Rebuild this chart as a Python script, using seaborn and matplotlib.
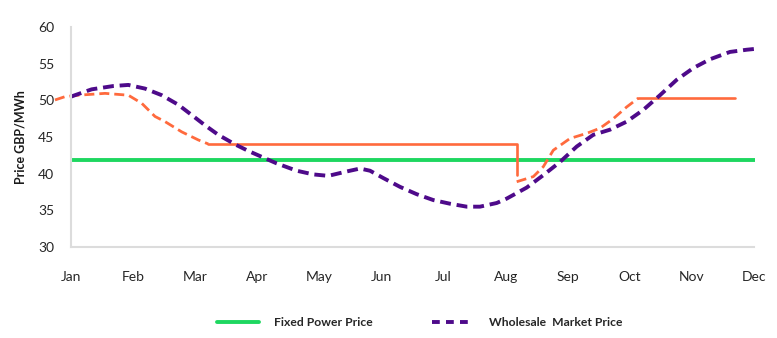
import matplotlib
matplotlib.use("Agg")
import matplotlib.pyplot as plt
import seaborn as sns
import pandas as pd
from matplotlib.lines import Line2D

months = ["Jan", "Feb", "Mar", "Apr", "May", "Jun", "Jul", "Aug", "Sep", "Oct", "Nov", "Dec"]
y_ticks = [30, 35, 40, 45, 50, 55, 60]

# Wholesale market price (month index, value)
wholesale_x = [0, 0.064, 0.333, 0.681, 0.923, 1.192, 1.461, 1.728, 1.944, 2.158, 2.372, 2.641,
               2.856, 3.124, 3.313, 3.635, 3.902, 4.144, 4.440, 4.655, 4.816, 5.030, 5.299,
               5.568, 5.835, 6.104, 6.373, 6.587, 6.856, 7.017, 7.339, 7.607, 7.876, 8.145,
               8.412, 8.681, 8.950, 9.217, 9.486, 9.755, 10.022, 10.291, 10.613, 10.882, 11.0]
wholesale_y = [50.5, 50.7, 51.5, 51.95, 52.1, 51.6, 50.7, 49.4, 48.0, 46.6, 45.3, 44.0,
               43.1, 42.1, 41.4, 40.4, 39.9, 39.7, 40.3, 40.7, 40.4, 39.4, 38.2,
               37.2, 36.4, 35.9, 35.5, 35.5, 36.0, 36.6, 38.1, 39.8, 41.6, 43.7,
               45.3, 46.0, 47.1, 48.7, 50.7, 52.8, 54.4, 55.6, 56.6, 56.9, 57.0]

# Fixed power price
fixed_x = [0, 11.02]
fixed_y = [41.85, 41.85]

# Hedged price: floating (dashed) pieces and locked (solid) pieces
float1_x = [-0.258, -0.097, 0.118, 0.548, 0.923, 1.139, 1.353, 1.514, 1.783, 2.050, 2.211]
float1_y = [50.05, 50.5, 50.7, 50.95, 50.7, 49.6, 47.8, 47.1, 45.7, 44.6, 44.05]
lock1_x = [2.211, 7.178, 7.178]
lock1_y = [44.05, 44.05, 39.8]
float2_x = [7.178, 7.446, 7.607, 7.768, 8.037, 8.306, 8.520, 8.734, 8.950, 9.137]
float2_y = [38.9, 39.6, 40.95, 43.2, 44.8, 45.5, 46.2, 47.5, 49.1, 50.3]
lock2_x = [9.137, 10.694]
lock2_y = [50.3, 50.3]

GREEN = "#1ed760"
PURPLE = "#4e0a8a"
ORANGE = "#ff6a3d"

sns.set_theme(style="white")
plt.rcParams["font.family"] = ["Lato", "DejaVu Sans"]

fig = plt.figure(figsize=(7.77, 3.38), dpi=100)
ax = fig.add_axes([71 / 777, 1 - 247 / 338, (754 - 71) / 777, (247 - 27) / 338])

def draw(xs, ys, **kw):
    df = pd.DataFrame({"x": xs, "y": ys})
    sns.lineplot(data=df, x="x", y="y", ax=ax, sort=False, estimator=None, legend=False, **kw)

draw(fixed_x, fixed_y, color=GREEN, linewidth=2.8, solid_capstyle="butt", clip_on=False)
draw(lock1_x, lock1_y, color=ORANGE, linewidth=1.9, clip_on=False)
draw(lock2_x, lock2_y, color=ORANGE, linewidth=1.9)
draw(float1_x, float1_y, color=ORANGE, linewidth=2.0, clip_on=False)
ax.lines[-1].set_dashes((3.6, 1.8))
draw(float2_x, float2_y, color=ORANGE, linewidth=2.0)
ax.lines[-1].set_dashes((3.6, 1.8))
draw(wholesale_x, wholesale_y, color=PURPLE, linewidth=2.8)
ax.lines[-1].set_dashes((2.8, 1.5))

ax.set_xlim(0, 11)
ax.set_ylim(30, 60)
ax.set_xticks(range(len(months)))
ax.set_xticklabels(months)
ax.set_yticks(y_ticks)
ax.tick_params(axis="both", length=0, labelsize=10, colors="#262626")
ax.tick_params(axis="x", pad=17)
ax.tick_params(axis="y", pad=12)
ax.set_xlabel("")
ax.set_ylabel("Price GBP/MWh", fontsize=9, fontweight="bold", color="#1a1a1a", labelpad=8)
for s in ["top", "right"]:
    ax.spines[s].set_visible(False)
for s in ["left", "bottom"]:
    ax.spines[s].set_color("#dcdcdc")
    ax.spines[s].set_linewidth(1.5)
for t in ax.get_xticklabels() + ax.get_yticklabels():
    t.set_color("#262626")

handles = [
    Line2D([], [], color=GREEN, linewidth=2.8),
    Line2D([], [], color=PURPLE, linewidth=2.8, dashes=(2.0, 1.6)),
]
leg = fig.legend(handles, ["Fixed Power Price", "Wholesale  Market Price"], loc="center",
                 bbox_to_anchor=(420 / 777, 1 - 323 / 338), ncol=2, frameon=False,
                 fontsize=8.7, handlelength=3.4, handletextpad=1.3, columnspacing=4.9)
for t in leg.get_texts():
    t.set_fontweight("bold")
    t.set_color("#262626")

fig.savefig("out.png", dpi=100)
